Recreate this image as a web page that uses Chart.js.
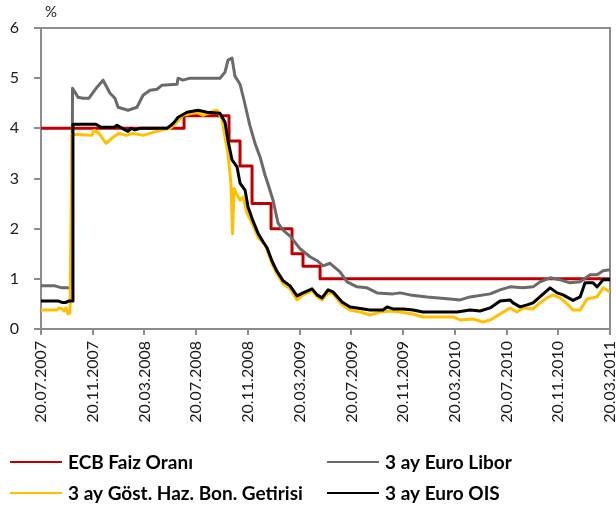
<!DOCTYPE html>
<html>
<head>
<meta charset="utf-8">
<script src="https://cdn.jsdelivr.net/npm/chart.js"></script>
<style>
  html, body { margin: 0; padding: 0; background: #fff; }
</style>
</head>
<body>
<canvas id="rateChart" width="616" height="510"></canvas>
<script>
// x values are months counted from 20.07.2007
const tickLabels = ['20.07.2007', '20.11.2007', '20.03.2008', '20.07.2008', '20.11.2008', '20.03.2009',
    '20.07.2009', '20.11.2009', '20.03.2010', '20.07.2010', '20.11.2010', '20.03.2011'];
const monthsPerTick = 4;

const seriesNames = ['ECB Faiz Oranı', '3 ay Euro Libor', '3 ay Göst. Haz. Bon. Getirisi', '3 ay Euro OIS'];

const ecbRate = [[0, 4.00], [11.06, 4.25], [14.54, 3.75], [15.39, 3.25], [16.32, 2.50], [17.79, 2.00],
    [19.41, 1.50], [20.26, 1.25], [21.58, 1.00], [44.00, 1.00]];

const euroLibor = [[0, 0.86], [1.08, 0.86], [1.62, 0.82], [2.36, 0.82], [2.44, 4.80], [2.86, 4.62], [3.25, 4.60],
    [3.71, 4.60], [4.33, 4.82], [4.80, 4.96], [5.34, 4.70], [5.72, 4.60], [5.96, 4.42], [6.73, 4.36], [7.42, 4.42],
    [7.89, 4.66], [8.43, 4.76], [8.97, 4.78], [9.36, 4.86], [10.52, 4.88], [10.60, 5.00], [10.98, 4.96], [11.52, 5.00],
    [13.84, 5.00], [14.23, 5.12], [14.46, 5.36], [14.77, 5.40], [15.00, 5.04], [15.39, 4.88], [15.70, 4.56],
    [16.16, 4.05], [16.55, 3.70], [16.94, 3.43], [17.32, 3.07], [17.48, 2.95], [17.94, 2.57], [18.33, 2.11],
    [18.72, 1.97], [19.26, 1.85], [20.03, 1.60], [20.80, 1.44], [21.42, 1.35], [21.81, 1.26], [22.35, 1.31],
    [23.12, 1.14], [23.67, 0.94], [24.44, 0.84], [25.21, 0.82], [25.99, 0.72], [27.22, 0.70], [27.77, 0.72],
    [28.54, 0.68], [29.85, 0.64], [31.63, 0.60], [32.41, 0.58], [33.18, 0.64], [34.73, 0.70], [35.50, 0.78],
    [36.27, 0.84], [37.28, 0.82], [38.05, 0.84], [38.59, 0.94], [39.37, 1.02], [40.14, 0.98], [40.91, 0.92],
    [41.69, 0.94], [42.46, 1.08], [43.00, 1.08], [43.47, 1.16], [44.00, 1.18]];

const tBillYield = [[0, 0.38], [1.24, 0.38], [1.39, 0.42], [1.62, 0.40], [1.78, 0.36], [1.93, 0.42], [2.09, 0.30],
    [2.24, 0.32], [2.40, 3.88], [3.94, 3.86], [4.10, 3.96], [4.49, 3.90], [5.03, 3.70], [5.57, 3.82], [6.03, 3.90],
    [6.57, 3.86], [7.12, 3.90], [7.89, 3.86], [8.43, 3.90], [9.20, 3.96], [9.98, 4.00], [10.52, 4.12], [10.98, 4.26],
    [12.06, 4.32], [12.53, 4.26], [13.07, 4.32], [13.61, 4.36], [14.00, 4.18], [14.23, 3.82], [14.46, 3.50],
    [14.69, 2.90], [14.81, 1.90], [14.93, 2.80], [15.16, 2.67], [15.39, 2.57], [15.62, 2.63], [15.93, 2.31],
    [16.32, 2.11], [16.78, 1.83], [17.32, 1.68], [17.87, 1.30], [18.25, 1.10], [18.72, 0.90], [19.26, 0.80],
    [19.80, 0.58], [20.26, 0.68], [20.96, 0.76], [21.35, 0.64], [21.73, 0.58], [22.20, 0.72], [22.58, 0.70],
    [23.28, 0.48], [23.90, 0.38], [24.67, 0.34], [25.44, 0.28], [26.22, 0.34], [26.99, 0.36], [27.77, 0.34],
    [28.77, 0.30], [29.54, 0.24], [31.86, 0.24], [32.41, 0.18], [33.41, 0.20], [34.18, 0.14], [34.73, 0.18],
    [35.50, 0.30], [36.27, 0.42], [36.81, 0.34], [37.28, 0.42], [38.05, 0.40], [38.59, 0.52], [39.13, 0.62],
    [39.60, 0.68], [40.14, 0.62], [40.68, 0.50], [41.14, 0.38], [41.69, 0.38], [42.23, 0.60], [43.00, 0.64],
    [43.47, 0.82], [44.00, 0.74]];

const euroOis = [[0, 0.56], [1.31, 0.56], [1.62, 0.53], [1.93, 0.53], [2.17, 0.56], [2.40, 0.56], [2.47, 4.08],
    [4.25, 4.08], [4.64, 4.02], [5.65, 4.02], [5.88, 4.06], [6.42, 3.98], [6.73, 3.94], [6.96, 4.00], [7.27, 3.97],
    [7.66, 4.00], [9.74, 4.00], [10.05, 4.06], [10.29, 4.12], [10.60, 4.22], [11.29, 4.32], [12.14, 4.36],
    [12.84, 4.32], [13.84, 4.30], [14.23, 4.12], [14.46, 3.76], [14.77, 3.37], [15.16, 3.23], [15.39, 2.91],
    [15.78, 2.77], [16.01, 2.43], [16.40, 2.15], [16.78, 1.91], [17.17, 1.74], [17.48, 1.62], [17.87, 1.35],
    [18.25, 1.15], [18.72, 0.96], [19.26, 0.86], [19.80, 0.66], [20.26, 0.72], [20.96, 0.80], [21.35, 0.68],
    [21.73, 0.62], [22.20, 0.78], [22.58, 0.74], [23.28, 0.54], [23.90, 0.44], [24.44, 0.42], [25.44, 0.38],
    [26.45, 0.38], [26.76, 0.44], [27.22, 0.40], [28.00, 0.40], [28.77, 0.38], [29.54, 0.34], [32.17, 0.34],
    [33.18, 0.38], [33.95, 0.36], [34.73, 0.42], [35.50, 0.56], [36.27, 0.58], [36.50, 0.52], [37.05, 0.44],
    [37.59, 0.48], [38.05, 0.52], [38.75, 0.68], [39.37, 0.82], [39.91, 0.72], [40.37, 0.68], [41.14, 0.57],
    [41.69, 0.64], [42.07, 0.92], [42.69, 0.92], [43.00, 0.84], [43.47, 0.98], [44.00, 0.98]];

const seriesColors = ['#c00000', '#6a6a6a', '#ffc000', '#000000'];
const axisColor = '#8c8c8c';

Chart.defaults.font.family = "Lato, 'Open Sans', sans-serif";
Chart.defaults.color = '#1a1a1a';

const toPoints = arr => arr.map(([x, y]) => ({ x, y }));

function lineSet(idx, values, extra) {
    return Object.assign({
        label: seriesNames[idx],
        data: toPoints(values),
        borderColor: seriesColors[idx],
        backgroundColor: seriesColors[idx],
        borderWidth: 3,
        pointRadius: 0,
        tension: 0,
        borderJoinStyle: 'round',
        order: 3 - idx
    }, extra || {});
}

// frame on the open sides, the "%" unit and a two-column legend under the axis
const chartDecor = {
    id: 'chartDecor',
    beforeDatasetsDraw(chart) {
        const { ctx, chartArea: a } = chart;
        ctx.save();
        ctx.strokeStyle = axisColor;
        ctx.lineWidth = 2;
        ctx.beginPath();
        ctx.moveTo(a.left, a.top);
        ctx.lineTo(a.right, a.top);
        ctx.lineTo(a.right, a.bottom);
        ctx.stroke();
        ctx.restore();
    },
    afterDraw(chart) {
        const { ctx } = chart;
        ctx.save();
        ctx.fillStyle = '#1a1a1a';
        ctx.font = "15px Lato, sans-serif";
        ctx.textBaseline = 'alphabetic';
        ctx.fillText('%', 45, 17);

        const cols = [10, 327];
        const rows = [462, 493];
        ctx.font = "bold 19px Lato, sans-serif";
        ctx.textBaseline = 'middle';
        chart.data.datasets.forEach((ds, i) => {
            const x = cols[i % 2];
            const y = rows[Math.floor(i / 2)];
            ctx.strokeStyle = ds.borderColor;
            ctx.lineWidth = 2;
            ctx.beginPath();
            ctx.moveTo(x, y);
            ctx.lineTo(x + 52, y);
            ctx.stroke();
            ctx.fillStyle = '#000';
            ctx.fillText(ds.label, x + 58, y + 1);
        });
        ctx.restore();
    }
};

new Chart(document.getElementById('rateChart'), {
    type: 'line',
    data: {
        datasets: [
            lineSet(0, ecbRate, { stepped: 'before' }),
            lineSet(1, euroLibor),
            lineSet(2, tBillYield),
            lineSet(3, euroOis)
        ]
    },
    options: {
        responsive: false,
        animation: false,
        events: [],
        layout: { padding: { top: 28, right: 6, bottom: 71, left: 0 } },
        plugins: {
            legend: { display: false },
            tooltip: { enabled: false }
        },
        scales: {
            x: {
                type: 'linear',
                min: 0,
                max: monthsPerTick * (tickLabels.length - 1),
                afterBuildTicks: scale => {
                    scale.ticks = tickLabels.map((_, i) => ({ value: i * monthsPerTick }));
                },
                afterFit: scale => {
                    scale.height = 110;
                    scale.paddingLeft = 0;
                    scale.paddingRight = 0;
                },
                ticks: {
                    minRotation: 90,
                    maxRotation: 90,
                    padding: 6,
                    font: { size: 16 },
                    callback: value => tickLabels[Math.round(value / monthsPerTick)]
                },
                grid: {
                    drawOnChartArea: false,
                    drawTicks: true,
                    tickLength: 6,
                    color: axisColor,
                    lineWidth: 2
                },
                border: { display: true, color: axisColor, width: 2 }
            },
            y: {
                min: 0,
                max: 6,
                afterFit: scale => {
                    scale.width = 41;
                    scale.paddingTop = 0;
                    scale.paddingBottom = 0;
                },
                ticks: {
                    stepSize: 1,
                    padding: 15,
                    font: { size: 16 }
                },
                grid: {
                    drawOnChartArea: false,
                    drawTicks: true,
                    tickLength: 7,
                    color: axisColor,
                    lineWidth: 2
                },
                border: { display: true, color: axisColor, width: 2 }
            }
        }
    },
    plugins: [chartDecor]
});
</script>
</body>
</html>
